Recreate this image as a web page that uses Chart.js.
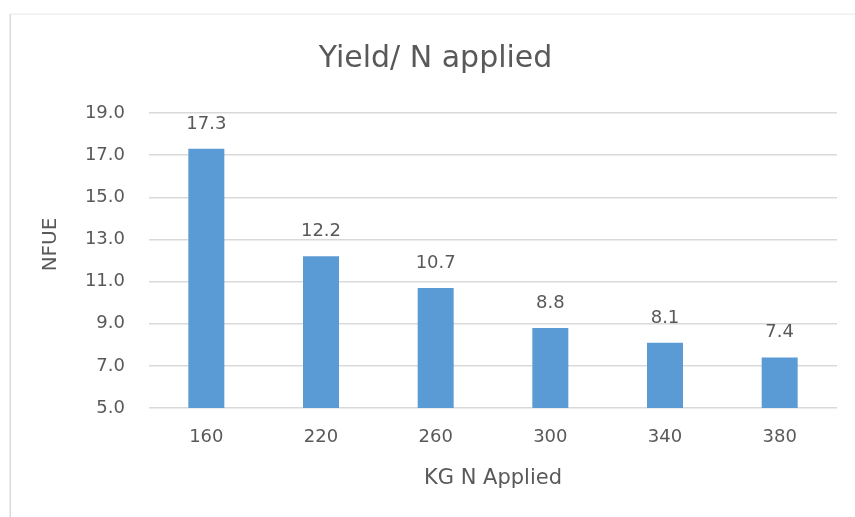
<!DOCTYPE html>
<html>
<head>
<meta charset="utf-8">
<script src="https://cdn.jsdelivr.net/npm/chart.js@4.4.1/dist/chart.umd.min.js"></script>
<style>
  html, body { margin: 0; padding: 0; background: #ffffff; }
  #c { display: block; }
</style>
</head>
<body>
<canvas id="c" width="855" height="517"></canvas>
<script>
const categories = ["160", "220", "260", "300", "340", "380"];
const nfueValues = [17.3, 12.2, 10.7, 8.8, 8.1, 7.4];
const yTickMin = 5;
const yTickMax = 19;
const yTickStep = 2;

const chartTitle = "Yield/ N applied";
const xAxisTitle = "KG N Applied";
const yAxisTitle = "NFUE";

const textColor = "#595959";
const barColor = "#5B9BD5";
const gridColor = "#d9d9d9";
const fontFamily = "'DejaVu Sans', sans-serif";

const frameAndBg = {
  id: "frameAndBg",
  beforeDraw(chart) {
    const ctx = chart.ctx;
    ctx.save();
    ctx.fillStyle = "#ffffff";
    ctx.fillRect(0, 0, chart.width, chart.height);
    ctx.strokeStyle = "#f0f0f0";
    ctx.lineWidth = 1.5;
    ctx.beginPath();
    ctx.moveTo(10, 14.25);
    ctx.lineTo(chart.width, 14.25);
    ctx.stroke();
    ctx.strokeStyle = "#d9d9d9";
    ctx.beginPath();
    ctx.moveTo(10.25, 14);
    ctx.lineTo(10.25, chart.height);
    ctx.stroke();
    ctx.restore();
  },
  afterDraw(chart) {
    // y axis title, placed slightly above the plot's vertical centre as in the original
    const ctx = chart.ctx;
    const area = chart.chartArea;
    ctx.save();
    ctx.fillStyle = textColor;
    ctx.font = "20px " + fontFamily;
    ctx.textAlign = "center";
    ctx.textBaseline = "middle";
    ctx.translate(51, (area.top + area.bottom) / 2 - 16);
    ctx.rotate(-Math.PI / 2);
    ctx.fillText(yAxisTitle, 0, 0);
    ctx.restore();
  }
};

const valueLabels = {
  id: "valueLabels",
  afterDatasetsDraw(chart) {
    const ctx = chart.ctx;
    const meta = chart.getDatasetMeta(0);
    const data = chart.data.datasets[0].data;
    ctx.save();
    ctx.fillStyle = textColor;
    ctx.font = "18px " + fontFamily;
    ctx.textAlign = "center";
    ctx.textBaseline = "alphabetic";
    meta.data.forEach((bar, i) => {
      ctx.fillText(data[i].toFixed(1), bar.x, bar.y - 20);
    });
    ctx.restore();
  }
};

new Chart(document.getElementById("c"), {
  type: "bar",
  data: {
    labels: categories,
    datasets: [{
      data: nfueValues,
      backgroundColor: barColor,
      borderWidth: 0,
      barPercentage: 0.314,
      categoryPercentage: 1.0
    }]
  },
  options: {
    responsive: false,
    animation: false,
    layout: { padding: { left: 34, right: 18, top: 0, bottom: 22 } },
    plugins: {
      legend: { display: false },
      tooltip: { enabled: false },
      title: {
        display: true,
        text: chartTitle,
        color: textColor,
        font: { family: fontFamily, size: 30, weight: "normal" },
        padding: { top: 41, bottom: 36 }
      }
    },
    scales: {
      x: {
        grid: { display: false, drawTicks: false },
        border: { display: false },
        ticks: {
          color: textColor,
          font: { family: fontFamily, size: 18 },
          padding: 19,
          maxRotation: 0
        },
        title: {
          display: true,
          text: xAxisTitle,
          color: textColor,
          font: { family: fontFamily, size: 21 },
          padding: { top: 4, bottom: 4 }
        },
        afterFit(scale) { scale.height = 87; }
      },
      y: {
        min: yTickMin,
        max: yTickMax,
        grid: { color: gridColor, lineWidth: 1.5, drawTicks: false },
        border: { display: false },
        ticks: {
          stepSize: yTickStep,
          color: textColor,
          font: { family: fontFamily, size: 18 },
          padding: 24,
          callback: (v) => Number(v).toFixed(1)
        },
        title: { display: false },
        afterFit(scale) { scale.width = 115; }
      }
    }
  },
  plugins: [frameAndBg, valueLabels]
});
</script>
</body>
</html>
